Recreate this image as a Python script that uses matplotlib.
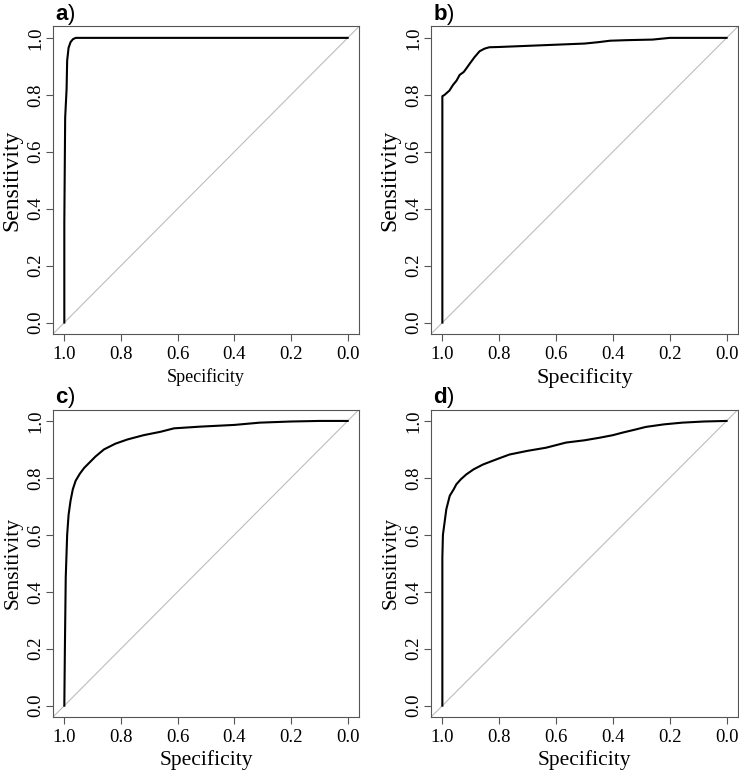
import numpy as np
import matplotlib.pyplot as plt

plt.rcParams['font.family'] = 'Liberation Serif'
plt.rcParams['mathtext.fontset'] = 'custom'
plt.rcParams['mathtext.bf'] = 'Liberation Sans:bold'
plt.rcParams['mathtext.rm'] = 'Liberation Sans'

# ROC curves (specificity, sensitivity)
spec_a = [1.0, 1.0, 0.998, 0.997, 0.994, 0.992, 0.99, 0.985, 0.978, 0.97, 0.96, 0.95, 0.0]
sens_a = [0.0, 0.35, 0.60, 0.72, 0.78, 0.82, 0.92, 0.965, 0.985, 0.995, 1.0, 1.0, 1.0]

spec_b = [1.0, 1.0, 0.992, 0.975, 0.963, 0.95, 0.939, 0.925, 0.916, 0.904, 0.887, 0.869,
          0.852, 0.835, 0.8, 0.7, 0.6, 0.5, 0.45, 0.41, 0.35, 0.26, 0.2, 0.0]
sens_b = [0.0, 0.795, 0.80, 0.815, 0.834, 0.85, 0.87, 0.88, 0.892, 0.909, 0.932, 0.953,
          0.962, 0.967, 0.968, 0.972, 0.976, 0.98, 0.985, 0.99, 0.992, 0.994, 1.0, 1.0]

spec_c = [1.0, 0.998, 0.995, 0.99, 0.985, 0.978, 0.97, 0.96, 0.945, 0.93, 0.91, 0.89,
          0.86, 0.82, 0.777, 0.72, 0.66, 0.613, 0.52, 0.4, 0.31, 0.2, 0.1, 0.0]
sens_c = [0.0, 0.2, 0.45, 0.6, 0.67, 0.72, 0.76, 0.79, 0.815, 0.835, 0.855, 0.875,
          0.9, 0.92, 0.935, 0.95, 0.962, 0.974, 0.98, 0.986, 0.994, 0.998, 1.0, 1.0]

spec_d = [1.0, 1.0, 0.998, 0.99, 0.986, 0.974, 0.96, 0.951, 0.935, 0.916, 0.89, 0.857,
          0.81, 0.764, 0.7, 0.635, 0.565, 0.5, 0.447, 0.4, 0.366, 0.32, 0.284, 0.22,
          0.156, 0.08, 0.0]
sens_d = [0.0, 0.52, 0.6, 0.66, 0.69, 0.737, 0.76, 0.777, 0.795, 0.812, 0.83, 0.847,
          0.865, 0.882, 0.895, 0.906, 0.924, 0.932, 0.941, 0.95, 0.959, 0.97, 0.979, 0.988,
          0.994, 0.998, 1.0]

letters = ['a', 'b', 'c', 'd']
ticks = [0.0, 0.2, 0.4, 0.6, 0.8, 1.0]

curves = [(spec_a, sens_a), (spec_b, sens_b), (spec_c, sens_c), (spec_d, sens_d)]
rects = [[0.0717, 0.5674, 0.4141, 0.3983], [0.5832, 0.5674, 0.4154, 0.3983],
         [0.0717, 0.0712, 0.4141, 0.3983], [0.5832, 0.0712, 0.4154, 0.3983]]
xlab_size = [13, 16, 15.5, 15.5]
ylab_size = [17, 17, 15.5, 15.5]
xlab_y = [-0.112, -0.11, -0.107, -0.107]
ylab_x = [-0.10, -0.10, -0.10, -0.10]

fig = plt.figure(figsize=(7.39, 7.72), dpi=100)

for i in range(4):
    ax = fig.add_axes(rects[i])
    x, y = curves[i]
    ax.plot([1.04, -0.04], [-0.04, 1.04], color='#bdbdbd', lw=0.8)
    ax.plot(x, y, color='black', lw=1.5)
    ax.set_xlim(1.04, -0.04)
    ax.set_ylim(-0.04, 1.04)
    ax.set_xticks(ticks)
    ax.set_yticks(ticks)
    ax.set_xticklabels(['%.1f' % t for t in ticks])
    ax.set_yticklabels(['%.1f' % t for t in ticks], rotation=90, va='center')
    ax.tick_params(length=5, width=0.8, color='#555555', labelsize=13.5, pad=3.5)
    ax.tick_params(axis='y', pad=1)
    for s in ax.spines.values():
        s.set_color('#555555')
        s.set_linewidth(0.8)
    ax.set_xlabel('Specificity', fontsize=xlab_size[i])
    ax.set_ylabel('Sensitivity', fontsize=ylab_size[i])
    ax.xaxis.set_label_coords(0.5, xlab_y[i])
    ax.yaxis.set_label_coords(ylab_x[i], 0.5)
    ax.text(0.007, 1.022, r'$\mathbf{%s}$)' % letters[i], transform=ax.transAxes,
            family='Liberation Sans', fontsize=16, ha='left', va='baseline')

fig.savefig('out.png', dpi=100)
